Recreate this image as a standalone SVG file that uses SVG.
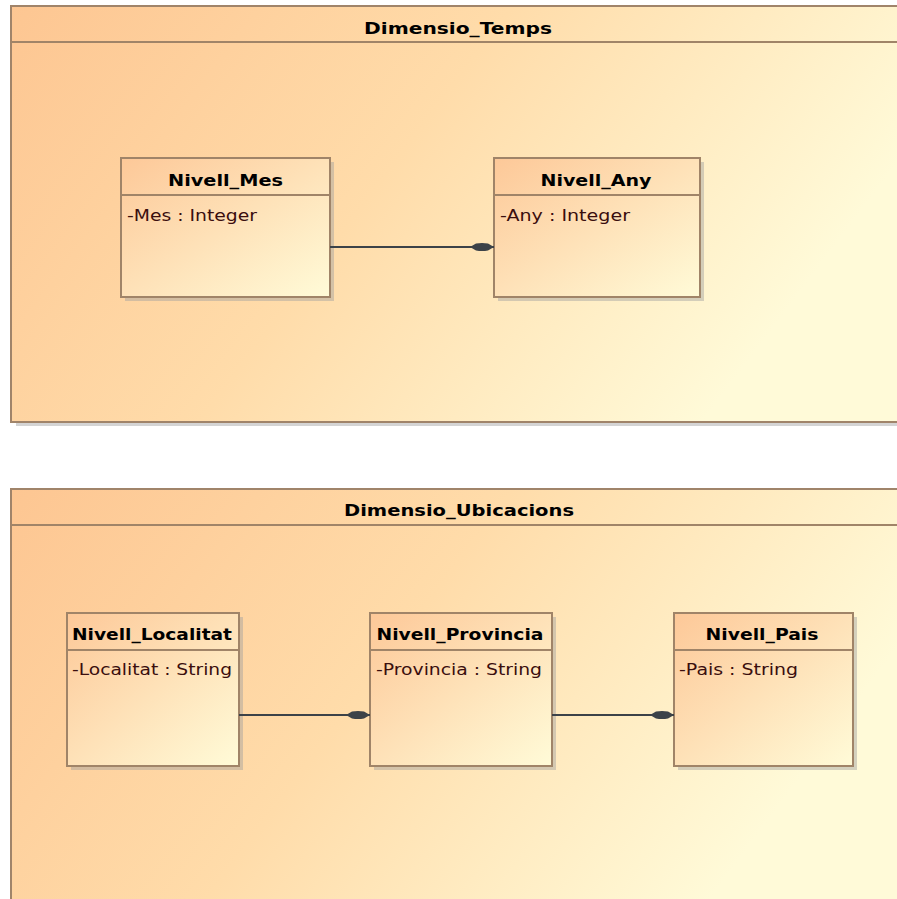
<svg xmlns="http://www.w3.org/2000/svg" width="897" height="899" viewBox="0 0 897 899">
<defs>
<linearGradient id="pkg" x1="0" y1="0" x2="1" y2="0.35">
<stop offset="0" stop-color="#fdc692"/>
<stop offset="0.5" stop-color="#ffdcaa"/>
<stop offset="1" stop-color="#fffad8"/>
</linearGradient>
<linearGradient id="cls" x1="0" y1="0" x2="1" y2="1">
<stop offset="0" stop-color="#fdc898"/>
<stop offset="1" stop-color="#fffbd8"/>
</linearGradient>
<marker id="dia" markerWidth="26" markerHeight="10" refX="24" refY="5" orient="auto" markerUnits="userSpaceOnUse">
<path d="M0,5 L6,1.5 Q12,0.5 18,1.5 L24,5 L18,8.5 Q12,9.5 6,8.5 Z" fill="#3c4248"/>
</marker>
</defs>
<style>
.pkg{fill:url(#pkg);stroke:#a0846a;stroke-width:2}
.psh{fill:#b8b8b8;opacity:0.6}
.cls{fill:url(#cls);stroke:#a08468;stroke-width:2}
.sh{fill:#a0a0a0;opacity:0.45}
.sep{stroke:#a08468;stroke-width:2}
.title{font-family:"DejaVu Sans","Liberation Sans",sans-serif;font-weight:bold;font-size:16px;fill:#000}
.attr{font-family:"DejaVu Sans","Liberation Sans",sans-serif;font-size:16px;fill:#3a0e0e}
.con{stroke:#3c4248;stroke-width:2;fill:none}
</style>
<rect width="897" height="899" fill="#ffffff"/>
<g id="pkg_temps">
<rect class="psh" x="16" y="422" width="885" height="4"/>
<rect class="pkg" x="11" y="6" width="895" height="416"/>
<line class="sep" x1="11" y1="42" x2="897" y2="42"/>
<text class="title" x="458" y="34" text-anchor="middle" textLength="188" lengthAdjust="spacingAndGlyphs">Dimensio_Temps</text>
</g>
<g id="pkg_ubic">
<rect class="pkg" x="11" y="489" width="895" height="420"/>
<line class="sep" x1="11" y1="525" x2="897" y2="525"/>
<text class="title" x="459" y="516" text-anchor="middle" textLength="230" lengthAdjust="spacingAndGlyphs">Dimensio_Ubicacions</text>
</g>
<g id="Nivell_Mes">
<rect class="sh" x="125" y="162" width="209" height="139"/>
<rect class="cls" x="121" y="158" width="209" height="139"/>
<line class="sep" x1="121" y1="195" x2="330" y2="195"/>
<text class="title" x="225.5" y="186" text-anchor="middle" textLength="115" lengthAdjust="spacingAndGlyphs">Nivell_Mes</text>
<text class="attr" x="127" y="221" textLength="130" lengthAdjust="spacingAndGlyphs">-Mes : Integer</text>
</g>
<g id="Nivell_Any">
<rect class="sh" x="498" y="162" width="206" height="139"/>
<rect class="cls" x="494" y="158" width="206" height="139"/>
<line class="sep" x1="494" y1="195" x2="700" y2="195"/>
<text class="title" x="596" y="186" text-anchor="middle" textLength="111" lengthAdjust="spacingAndGlyphs">Nivell_Any</text>
<text class="attr" x="500" y="221" textLength="130" lengthAdjust="spacingAndGlyphs">-Any : Integer</text>
</g>
<g id="Nivell_Localitat">
<rect class="sh" x="71" y="617" width="172" height="153"/>
<rect class="cls" x="67" y="613" width="172" height="153"/>
<line class="sep" x1="67" y1="650" x2="239" y2="650"/>
<text class="title" x="152" y="640" text-anchor="middle" textLength="160" lengthAdjust="spacingAndGlyphs">Nivell_Localitat</text>
<text class="attr" x="72" y="675" textLength="160" lengthAdjust="spacingAndGlyphs">-Localitat : String</text>
</g>
<g id="Nivell_Provincia">
<rect class="sh" x="374" y="617" width="182" height="153"/>
<rect class="cls" x="370" y="613" width="182" height="153"/>
<line class="sep" x1="370" y1="650" x2="552" y2="650"/>
<text class="title" x="460" y="640" text-anchor="middle" textLength="167" lengthAdjust="spacingAndGlyphs">Nivell_Provincia</text>
<text class="attr" x="376" y="675" textLength="166" lengthAdjust="spacingAndGlyphs">-Provincia : String</text>
</g>
<g id="Nivell_Pais">
<rect class="sh" x="678" y="617" width="179" height="153"/>
<rect class="cls" x="674" y="613" width="179" height="153"/>
<line class="sep" x1="674" y1="650" x2="853" y2="650"/>
<text class="title" x="762" y="640" text-anchor="middle" textLength="113" lengthAdjust="spacingAndGlyphs">Nivell_Pais</text>
<text class="attr" x="679" y="675" textLength="119" lengthAdjust="spacingAndGlyphs">-Pais : String</text>
</g>
<g id="connectors">
<line class="con" x1="330" y1="247" x2="494" y2="247" marker-end="url(#dia)"/>
<line class="con" x1="239" y1="715" x2="370" y2="715" marker-end="url(#dia)"/>
<line class="con" x1="552" y1="715" x2="674" y2="715" marker-end="url(#dia)"/>
</g>
</svg>
